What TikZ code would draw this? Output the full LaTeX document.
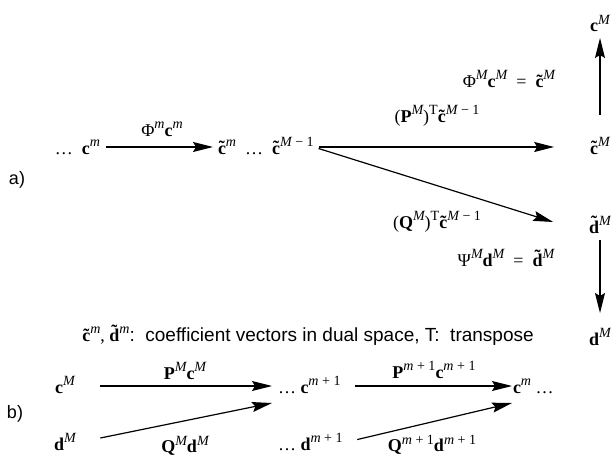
\documentclass[tikz,border=0pt]{standalone}
\usepackage{fontspec}
\usepackage{graphicx}
\setmainfont{Liberation Serif}
\newfontfamily\labelsans{Liberation Sans}
\usetikzlibrary{arrows.meta}

\newcommand{\vecfont}{\fontsize{18}{20}\selectfont}
\newcommand{\labfont}{\fontsize{18}{20}\selectfont}
\newcommand{\notefont}{\fontsize{19}{21}\selectfont}
\newcommand{\vb}[1]{\textbf{#1}}
\newsavebox{\tildebox}
\newcommand{\vt}[1]{\leavevmode\sbox{\tildebox}{\bfseries #1}%
  \rlap{\hbox to\wd\tildebox{\hss\raisebox{\dimexpr\ht\tildebox-1ex\relax}{\bfseries\char"02DC}\hss}}\usebox{\tildebox}}
\newcommand{\sps}[1]{\raisebox{0.42em}{\scalebox{0.78}{\itshape #1}}}
\newcommand{\up}[1]{{\upshape #1}}

\begin{document}
\begin{tikzpicture}[x=1pt,y=-1pt,
  vec/.style={inner sep=0pt,outer sep=0pt,font=\vecfont,text height=16pt,text depth=2pt},
  lab/.style={inner sep=0pt,font=\labfont},
  tag/.style={inner sep=0pt,font=\labelsans\vecfont},
  arr/.style={-{Stealth[length=20pt,width=10pt,inset=3pt]},line width=1.2pt}]
\useasboundingbox (0,0) rectangle (611,460);

% a)
\node[tag] (taga) at (17,180) {a)};
\node[vec,anchor=east] (cm) at (100,147) {\ldots\ \ \vb{c}\sps{m}};
\node[vec,anchor=west] (ctm) at (218,147) {\vt{c}\sps{m}\hspace{9pt}\ldots\hspace{9pt}\vt{c}\sps{M \up{− 1}}};
\node[vec] (ctM) at (600,147) {\vt{c}\sps{M}};
\node[vec] (cM) at (600,25) {\vb{c}\sps{M}};
\node[vec] (dtM) at (600,226) {\vt{d}\sps{M}};
\node[vec] (dM) at (600,338) {\vb{d}\sps{M}};

\draw[arr,shorten <=6pt,shorten >=5pt] (cm.east) -- (ctm.west);
\draw[arr,shorten <=5pt,shorten >=36pt] (ctm.east) -- (ctM.west);
\draw[arr,shorten <=5pt] (ctm.east) -- ([xshift=-36pt,yshift=4pt]dtM.west);
\draw[arr,shorten <=23pt,shorten >=4pt] (ctM.north) -- (cM.south);
\draw[arr,shorten <=5pt,shorten >=16pt] (dtM.south) -- (dM.north);

\node[lab] (phim) at (162,129) {Φ\sps{m}\vb{c}\sps{m}};
\node[lab] (ptc) at (437,116) {(\vb{P}\sps{M})\sps{\up{T}}\vt{c}\sps{M \up{− 1}}};
\node[lab] (qtc) at (437,222) {(\vb{Q}\sps{M})\sps{\up{T}}\vt{c}\sps{M \up{− 1}}};
\node[lab] (phiM) at (509,79) {Φ\sps{M}\vb{c}\sps{M} \ = \ \vt{c}\sps{M}};
\node[lab] (psiM) at (506,258) {Ψ\sps{M}\vb{d}\sps{M} \ = \ \vt{d}\sps{M}};

\node[inner sep=0pt] (note) at (308,335) {{\vecfont\vt{c}\sps{m}, \vt{d}\sps{m}}{\labelsans\notefont:\ \ coefficient vectors in dual space, T:\ \ transpose}};

% b)
\node[tag] (tagb) at (15,414) {b)};
\node[vec] (bcM) at (65,386) {\vb{c}\sps{M}};
\node[vec] (bdM) at (65,443) {\vb{d}\sps{M}};
\node[vec,anchor=west] (bcm1) at (278,386) {\ldots\ \vb{c}\sps{m \up{+ 1}}};
\node[vec,anchor=west] (bdm1) at (278,443) {\ldots\ \vb{d}\sps{m \up{+ 1}}};
\node[vec,anchor=west] (bcm) at (513,386) {\vb{c}\sps{m}\ \ldots};

\draw[arr,shorten <=25pt,shorten >=6pt] (bcM.east) -- (bcm1.west);
\draw[arr,shorten <=25pt] (bdM.east) -- ([xshift=-6pt,yshift=-17pt]bcm1.west);
\draw[arr,shorten <=14pt,shorten >=1pt] (bcm1.east) -- (bcm.west);
\draw[arr,shorten <=15pt] (bdm1.east) -- ([xshift=-1pt,yshift=-17pt]bcm.west);

\node[lab] (pMc) at (185,371) {\vb{P}\sps{M}\vb{c}\sps{M}};
\node[lab] (qMd) at (185,446) {\vb{Q}\sps{M}\vb{d}\sps{M}};
\node[lab] (pmc) at (434,370) {\vb{P}\sps{m \up{+ 1}}\vb{c}\sps{m \up{+ 1}}};
\node[lab] (qmd) at (432,445) {\vb{Q}\sps{m \up{+ 1}}\vb{d}\sps{m \up{+ 1}}};
\end{tikzpicture}
\end{document}
